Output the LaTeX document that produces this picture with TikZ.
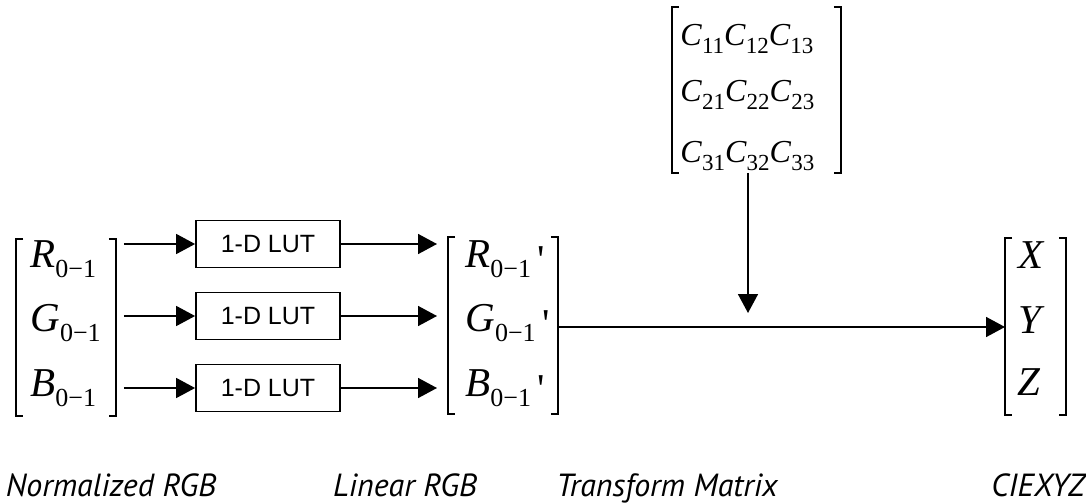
\documentclass[tikz,border=0pt]{standalone}
\usepackage{fontspec}
\setmainfont{Liberation Serif}
\newfontfamily\lutfont{Liberation Sans}
\newfontfamily\capfont{PT Sans}
\usetikzlibrary{arrows.meta}

% matrix entry: italic letter with a lowered subscript
\newcommand{\ent}[2]{\fontsize{20.5}{24}\selectfont\textit{#1}\raisebox{-5pt}{\fontsize{13}{15}\selectfont #2}}
\newcommand{\cent}[2]{\textit{#1}\raisebox{-4pt}{\fontsize{11.5}{13}\selectfont #2}}
% square brackets round an empty frame node
\newcommand{\brackets}[1]{%
  \draw[brk] ([xshift=3.5pt]#1.north west) -| (#1.south west) -- ++(7,0);
  \draw[brk] ([xshift=-3.5pt]#1.north east) -| (#1.south east) -- ++(-7,0);}

\begin{document}
\begin{tikzpicture}[x=0.5pt,y=-0.5pt]
  \tikzstyle{every node}+=[inner sep=0pt]
  \tikzstyle{arr}=[black, line width=0.8pt, -{Triangle[length=9.5pt,width=10pt]}]
  \tikzstyle{brk}=[black, line width=1pt]
  \tikzstyle{frame}=[anchor=north west, minimum height=88pt]
  \tikzstyle{lut}=[draw, line width=0.9pt, minimum width=72pt, minimum height=23.5pt,
                   font={\lutfont\fontsize{12.5}{15}\selectfont}]
  \tikzstyle{lbl}=[anchor=base, font={\capfont\itshape\fontsize{16}{19}\selectfont}]
  \useasboundingbox (0,0) rectangle (1086,503);

  % normalized RGB
  \node[frame, minimum width=49.5pt] (nrgb) at (16,239) {};
  \brackets{nrgb}
  \node[anchor=base west] (r0) at (30,267) {\ent{R}{0−1}};
  \node[anchor=base west] (g0) at (30,331) {\ent{G}{0−1}};
  \node[anchor=base west] (b0) at (30,396) {\ent{B}{0−1}};

  % look-up tables
  \node[lut] (lut1) at (268,244) {1-D LUT};
  \node[lut] (lut2) at (268,316) {1-D LUT};
  \node[lut] (lut3) at (268,388) {1-D LUT};

  % linear RGB
  \node[frame, minimum width=54.5pt] (lrgb) at (448,237) {};
  \brackets{lrgb}
  \node[anchor=base west] (r1) at (465,267) {\ent{R}{0−1}\,\raisebox{-3pt}{\textquotesingle}};
  \node[anchor=base west] (g1) at (465,331) {\ent{G}{0−1}\,\raisebox{-3pt}{\textquotesingle}};
  \node[anchor=base west] (b1) at (465,396) {\ent{B}{0−1}\,\raisebox{-3pt}{\textquotesingle}};

  % transform matrix
  \node[frame, minimum width=84pt, minimum height=82.5pt] (cmat) at (672,7) {};
  \brackets{cmat}
  \node[anchor=base west, font=\fontsize{16}{19}\selectfont] (c1) at (680,45) {\cent{C}{11}\cent{C}{12}\cent{C}{13}};
  \node[anchor=base west, font=\fontsize{16}{19}\selectfont] (c2) at (680,101) {\cent{C}{21}\cent{C}{22}\cent{C}{23}};
  \node[anchor=base west, font=\fontsize{16}{19}\selectfont] (c3) at (680,162) {\cent{C}{31}\cent{C}{32}\cent{C}{33}};

  % CIEXYZ
  \node[frame, minimum width=30pt] (xyz) at (1005,238) {};
  \brackets{xyz}
  \node[anchor=base west, font=\fontsize{20.5}{24}\selectfont] (x) at (1018,268) {\textit{X}};
  \node[anchor=base west, font=\fontsize{20.5}{24}\selectfont] (y) at (1018,333) {\textit{Y}};
  \node[anchor=base west, font=\fontsize{20.5}{24}\selectfont] (z) at (1017,395) {\textit{Z}};

  % connectors
  \foreach \i in {1,2,3}{
    \draw[arr] ([xshift=4pt]nrgb.east |- lut\i.west) -- (lut\i.west);
    \draw[arr] (lut\i.east) -- ([xshift=-5.5pt]lrgb.west |- lut\i.east);
  }
  \coordinate (join) at (748,327);
  \draw[arr] (lrgb.east |- join) -- (xyz.west |- join);
  \draw[arr] (cmat.south -| join) -- ([yshift=7pt]join);

  % captions
  \node[lbl] (nlab) at (111,496) {Normalized RGB};
  \node[lbl] (llab) at (405,496) {Linear RGB};
  \node[lbl] (tlab) at (667,496) {Transform Matrix};
  \node[lbl] (xlab) at (1038,496) {CIEXYZ};
\end{tikzpicture}
\end{document}
